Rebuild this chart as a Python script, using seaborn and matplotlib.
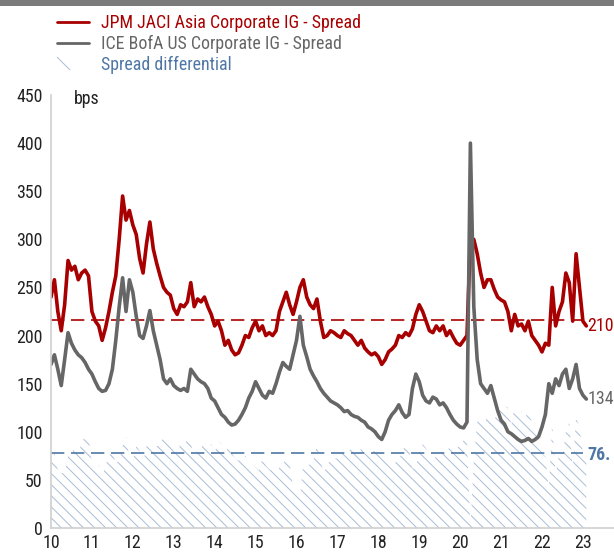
import numpy as np
import pandas as pd
import matplotlib
matplotlib.use("Agg")
import matplotlib.pyplot as plt
from matplotlib.lines import Line2D
from matplotlib.patches import Patch, Rectangle
import seaborn as sns

# monthly readings, Jan 2010 .. Feb 2023 (bps)
months = pd.date_range("2010-01-01", "2023-02-01", freq="MS")

asia_ig = [
    240, 258, 225, 205, 232, 278, 268, 272, 258, 265, 268, 262,  # 2010
    225, 215, 210, 195, 208, 225, 245, 262, 300, 345, 320, 330,  # 2011
    315, 305, 280, 265, 295, 318, 290, 275, 262, 250, 245, 242,  # 2012
    228, 222, 232, 230, 235, 255, 230, 238, 235, 240, 230, 222,  # 2013
    210, 215, 205, 190, 195, 185, 180, 182, 190, 200, 198, 208,  # 2014
    215, 205, 210, 200, 203, 200, 205, 225, 235, 245, 232, 222,  # 2015
    235, 250, 258, 240, 232, 228, 238, 215, 198, 200, 205, 203,  # 2016
    200, 198, 205, 202, 200, 195, 190, 195, 187, 183, 180, 182,  # 2017
    178, 170, 175, 183, 186, 190, 200, 198, 203, 200, 207, 222,  # 2018
    232, 225, 215, 205, 203, 210, 205, 210, 200, 205, 198, 192,  # 2019
    190, 195, 200, 300, 300, 285, 265, 250, 258, 258, 248, 240,  # 2020
    237, 235, 225, 205, 222, 210, 212, 205, 215, 200, 195, 190,  # 2021
    183, 192, 190, 250, 210, 225, 235, 265, 255, 215, 285, 250,  # 2022
    215, 210,                                                    # 2023
]

us_ig = [
    170, 180, 165, 148, 175, 203, 192, 185, 180, 177, 172, 165,  # 2010
    160, 152, 145, 142, 143, 150, 165, 195, 230, 260, 225, 258,  # 2011
    245, 220, 200, 197, 210, 226, 205, 190, 175, 155, 150, 155,  # 2012
    148, 145, 143, 145, 142, 165, 160, 155, 152, 150, 145, 135,  # 2013
    132, 125, 118, 115, 110, 107, 108, 112, 118, 125, 135, 142,  # 2014
    152, 145, 138, 135, 142, 140, 150, 162, 172, 168, 165, 180,  # 2015
    195, 220, 190, 178, 165, 158, 152, 145, 140, 136, 132, 130,  # 2016
    128, 125, 121, 122, 118, 116, 115, 112, 110, 105, 103, 100,  # 2017
    95, 92, 100, 112, 118, 122, 128, 120, 115, 118, 145, 160,    # 2018
    152, 138, 132, 130, 136, 134, 128, 130, 125, 118, 112, 108,  # 2019
    105, 104, 110, 400, 230, 175, 150, 145, 140, 148, 135, 122,  # 2020
    112, 108, 100, 98, 95, 92, 90, 91, 93, 90, 92, 95,           # 2021
    105, 118, 150, 140, 155, 148, 160, 165, 145, 155, 170, 145,  # 2022
    138, 134,                                                    # 2023
]

asia_avg = 216
diff_avg = 78
end_labels = ["210", "134", "76."]
year_ticks = list(range(2010, 2024))
year_labels = [str(y)[2:] for y in year_ticks]

RED = "#a80000"
GREY = "#666666"
BLUE = "#4f77a6"
HATCH = "#a9bdd6"
FS = 12.9

df = pd.DataFrame({
    "t": months.year + (months.month - 1) / 12,
    "asia": asia_ig,
    "us": us_ig,
})
df["diff"] = df["asia"] - df["us"]

sns.set_style("white")
plt.rcParams["font.family"] = ["Roboto Condensed", "DejaVu Sans"]
plt.rcParams["hatch.color"] = HATCH
plt.rcParams["hatch.linewidth"] = 0.7

fig = plt.figure(figsize=(6.14, 5.52), dpi=100)
ax = fig.add_axes([51 / 614, 1 - 528 / 552, 1 - 51 / 614, (528 - 95) / 552])

# grey strip on top of the page
fig.add_artist(Rectangle((0, 1 - 6 / 552), 1, 6 / 552, transform=fig.transFigure,
                         color="#7a7a7a", lw=0))

ax.fill_between(df["t"], 0, df["diff"].clip(lower=0), facecolor="none",
                edgecolor=HATCH, hatch="\\\\\\", linewidth=0)
ax.axhline(asia_avg, xmax=(2023.0 - 2010) / 13.76, color=RED, lw=1.2, dashes=(8, 4))
ax.axhline(diff_avg, xmax=(2023.0 - 2010) / 13.76, color=BLUE, lw=1.2, dashes=(8, 4))

sns.lineplot(data=df, x="t", y="asia", color=RED, lw=2.6, ax=ax)
sns.lineplot(data=df, x="t", y="us", color=GREY, lw=2.6, ax=ax)

ax.set_xlim(2010, 2023.76)
ax.set_ylim(0, 450)
ax.set_xticks(year_ticks)
ax.set_xticklabels(year_labels)
ax.set_yticks(range(0, 451, 50))
ax.set_xlabel("")
ax.set_ylabel("")
ax.tick_params(axis="both", labelsize=FS, colors="#222222", length=3, width=1,
               direction="out")
ax.tick_params(axis="x", pad=1)
ax.tick_params(axis="y", pad=3)
ax.tick_params(axis="both", color="#cfcfcf")
for side in ["top", "right"]:
    ax.spines[side].set_visible(False)
for side in ["left", "bottom"]:
    ax.spines[side].set_color("#cfcfcf")
    ax.spines[side].set_linewidth(1.2)

ax.text(2010.88, 446, "bps", fontsize=FS, color="#222222", ha="center", va="center")

last_t = df["t"].iloc[-1] + 0.03
ax.text(last_t, df["asia"].iloc[-1], end_labels[0], color=RED, fontsize=FS,
        va="center", ha="left", clip_on=False)
ax.text(last_t, df["us"].iloc[-1], end_labels[1], color=GREY, fontsize=FS,
        va="center", ha="left", clip_on=False)
ax.text(last_t, df["diff"].iloc[-1], end_labels[2], color=BLUE, fontsize=FS,
        fontweight="bold", va="center", ha="left", clip_on=False)

handles = [
    Line2D([], [], color=RED, lw=2),
    Line2D([], [], color=GREY, lw=2),
    Patch(facecolor="none", edgecolor=HATCH, hatch="\\", lw=0),
]
labels = ["JPM JACI Asia Corporate IG - Spread",
          "ICE BofA US Corporate IG - Spread",
          "Spread differential"]
leg = fig.legend(handles, labels, loc="upper left",
                 bbox_to_anchor=(57 / 614, 1 - 14 / 552), frameon=False,
                 fontsize=FS, handlelength=1.8, handletextpad=0.68,
                 labelspacing=0.16, borderpad=0, borderaxespad=0)
for txt, c in zip(leg.get_texts(), [RED, GREY, BLUE]):
    txt.set_color(c)

fig.savefig("out.png", dpi=100)
